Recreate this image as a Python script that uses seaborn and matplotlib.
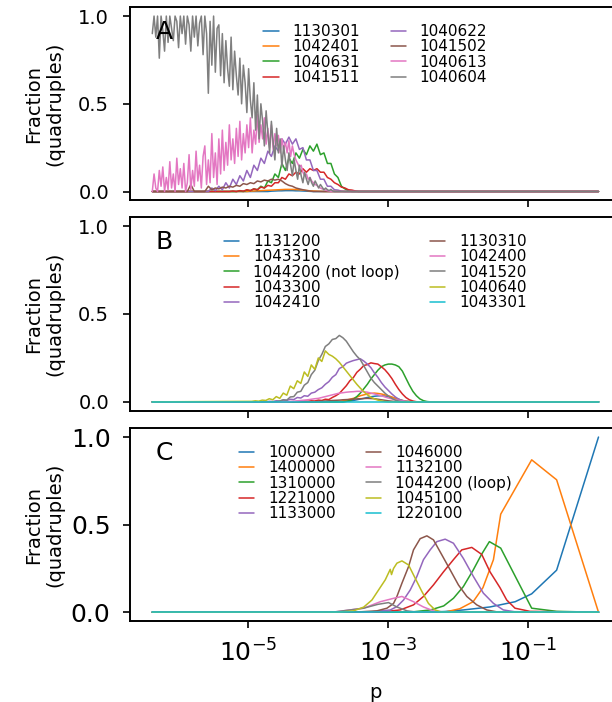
import numpy as np
import matplotlib
matplotlib.use("Agg")
import matplotlib.pyplot as plt
import matplotlib.ticker as mticker
import seaborn as sns

# x positions are stored as log10(p)

# ---------------- panel A ----------------
A_LOGP = [
    -6.37, -6.32, -6.27, -6.22, -6.17, -6.12, -6.07, -6.02, -5.97, -5.92,
    -5.87, -5.82, -5.77, -5.72, -5.67, -5.62, -5.57, -5.52, -5.47, -5.42,
    -5.37, -5.32, -5.27, -5.22, -5.17, -5.12, -5.07, -5.02, -4.97, -4.92,
    -4.87, -4.82, -4.77, -4.72, -4.67, -4.62, -4.57, -4.52, -4.47, -4.42,
    -4.37, -4.32, -4.27, -4.22, -4.17, -4.12, -4.07, -4.02, -3.97, -3.92,
    -3.87, -3.82, -3.77, -3.72, -3.67, -3.62, -3.57, -3.52, -3.47, -3.42,
    0.0,
]
# finer sampling for the two noisiest curves (1040613, 1040604)
A_FINE_LOGP = [
    -6.370, -6.345, -6.320, -6.295, -6.270, -6.245, -6.220, -6.195, -6.170, -6.145,
    -6.120, -6.095, -6.070, -6.045, -6.020, -5.995, -5.970, -5.945, -5.920, -5.895,
    -5.870, -5.845, -5.820, -5.795, -5.770, -5.745, -5.720, -5.695, -5.670, -5.645,
    -5.620, -5.595, -5.570, -5.545, -5.520, -5.495, -5.470, -5.445, -5.420, -5.395,
    -5.370, -5.345, -5.320, -5.295, -5.270, -5.245, -5.220, -5.195, -5.170, -5.145,
    -5.120, -5.095, -5.070, -5.045, -5.020, -4.995, -4.970, -4.945, -4.920, -4.895,
    -4.870, -4.845, -4.820, -4.795, -4.770, -4.745, -4.720, -4.695, -4.670, -4.645,
    -4.620, -4.595, -4.570, -4.545, -4.520, -4.495, -4.470, -4.445, -4.420, -4.395,
    -4.370, -4.345, -4.320, -4.295, -4.270, -4.245, -4.220, -4.195, -4.170, -4.145,
    -4.120, -4.095, -4.070, -4.045, -4.020, -3.995, -3.970, -3.945, -3.920, -3.895,
    -3.870, -3.845, -3.820, -3.795, -3.770,
    0.0,
]
A_LABELS = ["1130301", "1042401", "1040631", "1041511",
            "1040622", "1041502", "1040613", "1040604"]

a_1130301 = [
    0, 0, 0, 0, 0, 0, 0, 0, 0, 0,
    0, 0, 0, 0, 0, 0, 0, 0, 0, 0,
    0, 0, 0, 0, 0, 0, 0, 0, 0, 0,
    0, 0, 0, 0, 0.002, 0.003, 0.004, 0.004, 0.005, 0.005,
    0.005, 0.004, 0.004, 0.003, 0.002, 0.001, 0, 0, 0, 0,
    0, 0, 0, 0, 0, 0, 0, 0, 0, 0,
    0,
]
a_1042401 = [
    0, 0, 0, 0, 0, 0, 0, 0, 0, 0,
    0, 0, 0, 0, 0, 0, 0, 0, 0, 0,
    0, 0, 0, 0, 0, 0, 0, 0, 0.002, 0.003,
    0.004, 0.005, 0.006, 0.007, 0.008, 0.009, 0.010, 0.011, 0.012, 0.012,
    0.012, 0.011, 0.010, 0.008, 0.006, 0.004, 0.003, 0.002, 0.001, 0,
    0, 0, 0, 0, 0, 0, 0, 0, 0, 0,
    0,
]
a_1040631 = [
    0, 0, 0, 0, 0, 0, 0, 0, 0, 0,
    0, 0, 0, 0, 0, 0, 0, 0, 0, 0,
    0, 0, 0, 0, 0, 0.003, 0.0, 0.008, 0.005, 0.015,
    0.01, 0.03, 0.02, 0.06, 0.05, 0.10, 0.08, 0.16, 0.12, 0.19,
    0.16, 0.22, 0.19, 0.24, 0.21, 0.26, 0.23, 0.27, 0.21, 0.22,
    0.16, 0.16, 0.10, 0.08, 0.03, 0.015, 0.005, 0, 0, 0,
    0,
]
a_1041511 = [
    0, 0, 0, 0, 0, 0, 0, 0, 0, 0,
    0, 0, 0, 0, 0, 0, 0, 0, 0, 0,
    0, 0, 0, 0.003, 0.0, 0.005, 0.002, 0.01, 0.005, 0.015,
    0.01, 0.025, 0.02, 0.035, 0.03, 0.05, 0.05, 0.08, 0.07, 0.10,
    0.09, 0.11, 0.10, 0.13, 0.11, 0.13, 0.12, 0.13, 0.11, 0.11,
    0.08, 0.07, 0.05, 0.04, 0.025, 0.02, 0.01, 0.008, 0.003, 0,
    0,
]
a_1040622 = [
    0, 0, 0, 0, 0, 0, 0, 0, 0, 0,
    0, 0, 0, 0, 0, 0, 0, 0.02, 0.005, 0.03,
    0.01, 0.05, 0.02, 0.07, 0.04, 0.09, 0.06, 0.12, 0.08, 0.15,
    0.12, 0.19, 0.16, 0.23, 0.20, 0.26, 0.23, 0.30, 0.27, 0.31,
    0.27, 0.30, 0.24, 0.25, 0.18, 0.18, 0.12, 0.12, 0.07, 0.07,
    0.03, 0.03, 0.01, 0.008, 0.002, 0, 0, 0, 0, 0,
    0,
]
a_1041502 = [
    0, 0, 0, 0, 0, 0, 0, 0, 0, 0,
    0, 0.04, 0, 0, 0, 0, 0.03, 0.01, 0.02, 0.015,
    0.025, 0.02, 0.03, 0.025, 0.035, 0.03, 0.045, 0.04, 0.05, 0.045,
    0.06, 0.055, 0.065, 0.06, 0.07, 0.065, 0.07, 0.06, 0.045, 0.035,
    0.03, 0.02, 0.015, 0.01, 0.006, 0.003, 0, 0, 0, 0,
    0, 0, 0, 0, 0, 0, 0, 0, 0, 0,
    0,
]
a_1040613 = [
    0.0, 0.10, 0.02, 0.0, 0.12, 0.03, 0.14, 0.0, 0.08, 0.01,
    0.17, 0.02, 0.10, 0.0, 0.19, 0.04, 0.13, 0.02, 0.16, 0.0,
    0.05, 0.21, 0.01, 0.12, 0.03, 0.23, 0.06, 0.15, 0.02, 0.20,
    0.26, 0.04, 0.18, 0.05, 0.33, 0.08, 0.22, 0.04, 0.30, 0.10,
    0.35, 0.12, 0.28, 0.15, 0.38, 0.18, 0.30, 0.16, 0.36, 0.20,
    0.40, 0.18, 0.33, 0.22, 0.38, 0.25, 0.42, 0.22, 0.35, 0.27,
    0.44, 0.28, 0.38, 0.30, 0.42, 0.27, 0.36, 0.25, 0.38, 0.24,
    0.33, 0.26, 0.32, 0.22, 0.30, 0.24, 0.28, 0.22, 0.29, 0.20,
    0.26, 0.21, 0.18, 0.16, 0.14, 0.15, 0.11, 0.09, 0.10, 0.07,
    0.08, 0.06, 0.05, 0.04, 0.035, 0.025, 0.02, 0.015, 0.012, 0.008,
    0.005, 0.003, 0.0, 0.0, 0.0,
    0.0,
]
a_1040604 = [
    0.90, 1.00, 0.88, 1.00, 0.76, 1.00, 0.92, 0.80, 1.00, 0.85,
    1.00, 0.93, 0.86, 1.00, 0.97, 0.82, 1.00, 0.90, 1.00, 0.84,
    1.00, 0.95, 0.80, 1.00, 0.88, 1.00, 0.83, 0.96, 1.00, 0.78,
    1.00, 0.90, 0.56, 0.97, 0.72, 1.00, 0.68, 0.93, 0.95, 0.66,
    0.90, 0.62, 0.86, 0.70, 0.60, 0.88, 0.58, 0.80, 0.66, 0.55,
    0.76, 0.50, 0.72, 0.62, 0.45, 0.70, 0.52, 0.42, 0.62, 0.35,
    0.55, 0.30, 0.50, 0.40, 0.26, 0.46, 0.33, 0.22, 0.40, 0.28,
    0.18, 0.36, 0.22, 0.30, 0.14, 0.26, 0.18, 0.12, 0.22, 0.15,
    0.09, 0.18, 0.12, 0.07, 0.15, 0.09, 0.05, 0.11, 0.07, 0.04,
    0.08, 0.05, 0.03, 0.06, 0.04, 0.02, 0.04, 0.025, 0.01, 0.02,
    0.01, 0.005, 0.012, 0.003, 0.0,
    0.0,
]

# ---------------- panel B ----------------
B_LOGP = [
    -6.37, -4.95, -4.90, -4.85, -4.80, -4.75, -4.70, -4.65, -4.60, -4.55,
    -4.50, -4.45, -4.40, -4.35, -4.30, -4.25, -4.20, -4.15, -4.10, -4.05,
    -4.00, -3.95, -3.90, -3.85, -3.80, -3.75, -3.70, -3.65, -3.60, -3.55,
    -3.50, -3.45, -3.40, -3.35, -3.30, -3.25, -3.20, -3.15, -3.10, -3.05,
    -3.00, -2.95, -2.90, -2.85, -2.80, -2.75, -2.70, -2.65, -2.60, -2.55,
    -2.50, -2.45, -2.40, 0.0,
]
B_LABELS = ["1131200", "1043310", "1044200 (not loop)", "1043300", "1042410",
            "1130310", "1042400", "1041520", "1040640", "1043301"]

b_1131200 = [
    0, 0, 0, 0, 0, 0, 0, 0, 0, 0,
    0, 0, 0, 0, 0, 0, 0, 0, 0, 0,
    0, 0, 0, 0, 0, 0, 0, 0, 0.003, 0.005,
    0.008, 0.012, 0.016, 0.02, 0.025, 0.029, 0.032, 0.034, 0.035, 0.033,
    0.03, 0.025, 0.02, 0.014, 0.008, 0.004, 0.002, 0, 0, 0,
    0, 0, 0, 0,
]
b_1043310 = [
    0, 0, 0, 0, 0, 0, 0, 0, 0, 0,
    0, 0, 0, 0, 0, 0, 0, 0, 0, 0,
    0, 0, 0, 0, 0, 0, 0.003, 0.006, 0.01, 0.015,
    0.02, 0.027, 0.035, 0.04, 0.045, 0.048, 0.05, 0.048, 0.045, 0.04,
    0.035, 0.028, 0.02, 0.014, 0.008, 0.004, 0.002, 0, 0, 0,
    0, 0, 0, 0,
]
b_1044200 = [
    0, 0, 0, 0, 0, 0, 0, 0, 0, 0,
    0, 0, 0, 0, 0, 0, 0, 0, 0, 0,
    0, 0, 0, 0, 0, 0, 0, 0, 0.003, 0.008,
    0.015, 0.03, 0.05, 0.075, 0.10, 0.13, 0.155, 0.18, 0.20, 0.21,
    0.215, 0.215, 0.21, 0.20, 0.175, 0.135, 0.095, 0.06, 0.035, 0.017,
    0.007, 0.002, 0, 0,
]
b_1043300 = [
    0, 0, 0, 0, 0, 0, 0, 0, 0, 0,
    0, 0, 0, 0, 0.003, 0.002, 0.005, 0.004, 0.006, 0.005,
    0.01, 0.008, 0.015, 0.013, 0.025, 0.035, 0.048, 0.07, 0.092, 0.12,
    0.138, 0.168, 0.186, 0.207, 0.212, 0.222, 0.218, 0.215, 0.20, 0.183,
    0.16, 0.133, 0.10, 0.07, 0.045, 0.025, 0.012, 0.005, 0.001, 0,
    0, 0, 0, 0,
]
b_1042410 = [
    0, 0, 0, 0, 0, 0, 0.003, 0.002, 0.006, 0.005,
    0.01, 0.008, 0.015, 0.013, 0.025, 0.022, 0.035, 0.032, 0.05, 0.055,
    0.07, 0.08, 0.10, 0.115, 0.14, 0.155, 0.19, 0.20, 0.22, 0.228,
    0.235, 0.24, 0.245, 0.232, 0.215, 0.195, 0.165, 0.14, 0.11, 0.085,
    0.065, 0.045, 0.028, 0.015, 0.007, 0.002, 0, 0, 0, 0,
    0, 0, 0, 0,
]
b_1130310 = [
    0, 0, 0, 0, 0, 0, 0, 0, 0, 0,
    0, 0, 0, 0, 0, 0, 0, 0, 0, 0,
    0.003, 0.004, 0.005, 0.006, 0.008, 0.009, 0.01, 0.012, 0.013, 0.014,
    0.016, 0.017, 0.018, 0.019, 0.02, 0.019, 0.018, 0.015, 0.012, 0.009,
    0.006, 0.004, 0.002, 0.001, 0, 0, 0, 0, 0, 0,
    0, 0, 0, 0,
]
b_1042400 = [
    0, 0, 0, 0, 0, 0, 0, 0, 0, 0,
    0, 0, 0.003, 0.004, 0.005, 0.008, 0.01, 0.012, 0.015, 0.018,
    0.02, 0.025, 0.03, 0.035, 0.04, 0.045, 0.05, 0.052, 0.055, 0.057,
    0.058, 0.06, 0.06, 0.058, 0.055, 0.05, 0.045, 0.04, 0.035, 0.028,
    0.022, 0.017, 0.012, 0.008, 0.005, 0.003, 0.001, 0, 0, 0,
    0, 0, 0, 0,
]
b_1041520 = [
    0, 0, 0, 0, 0, 0, 0, 0, 0.002, 0.005,
    0.012, 0.01, 0.028, 0.03, 0.055, 0.06, 0.095, 0.11, 0.155, 0.18,
    0.235, 0.27, 0.315, 0.33, 0.355, 0.36, 0.378, 0.365, 0.345, 0.315,
    0.285, 0.26, 0.24, 0.205, 0.17, 0.135, 0.11, 0.09, 0.07, 0.05,
    0.033, 0.02, 0.01, 0.004, 0.001, 0, 0, 0, 0, 0,
    0, 0, 0, 0,
]
b_1040640 = [
    0, 0.003, 0.006, 0.004, 0.01, 0.008, 0.018, 0.012, 0.03, 0.02,
    0.05, 0.038, 0.09, 0.075, 0.12, 0.105, 0.17, 0.145, 0.21, 0.185,
    0.25, 0.23, 0.29, 0.27, 0.26, 0.245, 0.225, 0.20, 0.175, 0.15,
    0.125, 0.10, 0.078, 0.058, 0.04, 0.027, 0.017, 0.01, 0.005, 0.002,
    0, 0, 0, 0, 0, 0, 0, 0, 0, 0,
    0, 0, 0, 0,
]
b_1043301 = [
    0, 0, 0, 0, 0, 0, 0, 0, 0, 0,
    0, 0, 0, 0, 0, 0, 0, 0, 0, 0,
    0, 0, 0, 0, 0, 0, 0, 0, 0, 0,
    0, 0, 0, 0, 0, 0, 0, 0, 0, 0,
    0, 0, 0, 0, 0, 0, 0, 0, 0, 0,
    0, 0, 0, 0,
]

# ---------------- panel C ----------------
C_LABELS = ["1000000", "1400000", "1310000", "1221000", "1133000",
            "1046000", "1132100", "1044200 (loop)", "1045100", "1220100"]

c_1000000_x = [-6.37, -2.5, -2.2, -1.93, -1.55, -1.19, -0.954, -0.598, 0.0]
c_1000000_y = [0, 0, 0.004, 0.013, 0.03, 0.06, 0.105, 0.24, 1.0]

c_1400000_x = [-6.37, -2.2, -1.98, -1.79, -1.65, -1.50, -1.396, -0.954, -0.598, 0.0]
c_1400000_y = [0, 0, 0.02, 0.06, 0.14, 0.30, 0.56, 0.87, 0.756, 0]

c_1310000_x = [-6.37, -2.7, -2.40, -2.21, -2.07, -1.93, -1.79, -1.67, -1.558,
               -1.396, -0.954, -0.598, 0.0]
c_1310000_y = [0, 0, 0.013, 0.036, 0.08, 0.146, 0.24, 0.33, 0.403,
               0.366, 0.023, 0.005, 0]

c_1221000_x = [-6.37, -3.2, -3.02, -2.831, -2.641, -2.499, -2.356, -2.214, -2.071,
               -1.952, -1.809, -1.667, -1.548, -1.406, -1.311, -1.192, -0.979, 0.0]
c_1221000_y = [0, 0, 0.005, 0.013, 0.042, 0.09, 0.156, 0.23, 0.30,
               0.356, 0.37, 0.33, 0.23, 0.14, 0.07, 0.023, 0.005, 0]

c_1133000_x = [-6.37, -3.3, -2.973, -2.878, -2.783, -2.688, -2.593, -2.499, -2.403,
               -2.308, -2.189, -2.071, -1.929, -1.786, -1.644, -1.501, -1.359, -1.2, 0.0]
c_1133000_y = [0, 0, 0.013, 0.032, 0.07, 0.127, 0.204, 0.30, 0.356,
               0.403, 0.417, 0.394, 0.307, 0.204, 0.109, 0.051, 0.013, 0.003, 0]

c_1046000_x = [-6.37, -3.5, -3.162, -3.02, -2.926, -2.878, -2.806, -2.712, -2.641, -2.546,
               -2.45, -2.356, -2.236, -2.118, -2.0, -1.88, -1.738, -1.595, -1.45, 0.0]
c_1046000_y = [0, 0, 0.008, 0.023, 0.05, 0.09, 0.166, 0.26, 0.356, 0.42,
               0.436, 0.413, 0.327, 0.242, 0.156, 0.09, 0.042, 0.013, 0.002, 0]

c_1132100_x = [-6.37, -3.8, -3.353, -3.115, -2.92, -2.806, -2.641, -2.499, -2.356, -2.2, 0.0]
c_1132100_y = [0, 0, 0.023, 0.06, 0.08, 0.09, 0.06, 0.03, 0.008, 0.001, 0]

c_1044200_x = [-6.37, -3.8, -3.353, -3.15, -2.997, -2.878, -2.735, -2.6, 0.0]
c_1044200_y = [0, 0, 0.023, 0.045, 0.055, 0.03, 0.008, 0.001, 0]

c_1045100_x = [-6.37, -3.7, -3.496, -3.353, -3.234, -3.14, -3.044, -2.973, -2.955, -2.926,
               -2.878, -2.806, -2.712, -2.617, -2.521, -2.427, -2.332, -2.25, 0.0]
c_1045100_y = [0, 0, 0.008, 0.029, 0.07, 0.127, 0.185, 0.245, 0.215, 0.25,
               0.28, 0.293, 0.27, 0.194, 0.118, 0.05, 0.013, 0.002, 0]

c_1220100_x = [-6.37, 0.0]
c_1220100_y = [0, 0]


sns.set_style("ticks")
plt.rcParams['font.family'] = ['DejaVu Sans']
plt.rcParams.update({
    'axes.linewidth': 1.4,
    'axes.edgecolor': 'black',
    'axes.labelcolor': 'black',
    'text.color': 'black',
    'xtick.color': 'black',
    'ytick.color': 'black',
})
palette = sns.color_palette("tab10")

fig = plt.figure(figsize=(6.12, 7.02), dpi=100)
ax_a = fig.add_axes([0.2124, 0.7147, 0.802, 0.2749])
ax_b = fig.add_axes([0.2124, 0.4150, 0.802, 0.2755])
ax_c = fig.add_axes([0.2124, 0.1154, 0.802, 0.2745])

a_x = [A_LOGP] * 6 + [A_FINE_LOGP, A_FINE_LOGP]
panel_a = list(zip(A_LABELS, a_x,
                   [a_1130301, a_1042401, a_1040631, a_1041511,
                    a_1040622, a_1041502, a_1040613, a_1040604]))
panel_b = [(B_LABELS[i], B_LOGP, v) for i, v in enumerate(
    [b_1131200, b_1043310, b_1044200, b_1043300, b_1042410,
     b_1130310, b_1042400, b_1041520, b_1040640, b_1043301])]
panel_c = list(zip(C_LABELS,
                   [c_1000000_x, c_1400000_x, c_1310000_x, c_1221000_x, c_1133000_x,
                    c_1046000_x, c_1132100_x, c_1044200_x, c_1045100_x, c_1220100_x],
                   [c_1000000_y, c_1400000_y, c_1310000_y, c_1221000_y, c_1133000_y,
                    c_1046000_y, c_1132100_y, c_1044200_y, c_1045100_y, c_1220100_y]))


def draw_panel(ax, series, letter, ticksize, pad):
    for i, (label, logp, frac) in enumerate(series):
        p = 10.0 ** np.asarray(logp, dtype=float)
        sns.lineplot(x=p, y=frac, ax=ax, color=palette[i], lw=1.1, label=label)
    ax.set_xscale('log')
    ax.set_xlim(10 ** -6.6885, 10 ** 0.3185)
    ax.set_ylim(-0.05, 1.05)
    ax.set_yticks([0.0, 0.5, 1.0])
    ax.xaxis.set_major_locator(mticker.FixedLocator([1e-5, 1e-3, 1e-1]))
    ax.xaxis.set_minor_locator(mticker.NullLocator())
    ax.tick_params(axis='both', which='major', length=5, width=1.2,
                   labelsize=ticksize, pad=pad)
    ax.set_ylabel("Fraction\n(quadruples)", fontsize=14)
    ax.yaxis.set_label_coords(-0.133, 0.5)
    ax.set_xlabel("")
    ax.text(0.052, 0.935, letter, transform=ax.transAxes, fontsize=18,
            ha='left', va='top')
    ax.legend(loc='upper center', ncol=2, frameon=False, fontsize=11,
              handlelength=1.0, handletextpad=0.9, labelspacing=0.02,
              columnspacing=2.0, borderaxespad=0.7)


draw_panel(ax_a, panel_a, "A", 14, 10)
draw_panel(ax_b, panel_b, "B", 14, 10)
draw_panel(ax_c, panel_c, "C", 18, 9)
ax_a.tick_params(labelbottom=False)
ax_b.tick_params(labelbottom=False)
ax_c.tick_params(axis='x', pad=8)
ax_c.set_xlabel("p", fontsize=14, labelpad=12)

fig.savefig("out.png", dpi=100)
